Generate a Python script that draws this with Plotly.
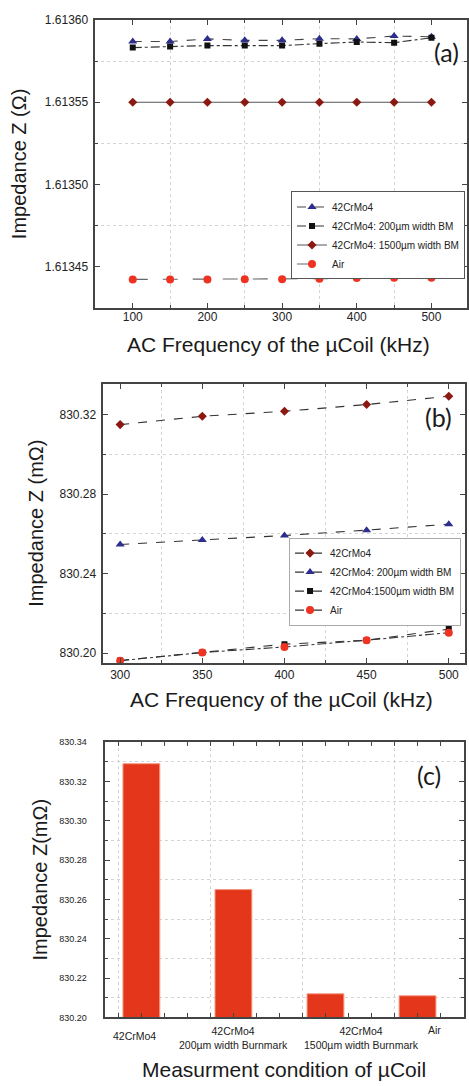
import plotly.graph_objects as go

W, H = 469, 1086

# ---- Panel (a): impedance vs. AC frequency, 100-500 kHz (ohm) ----
freq_a = [100, 150, 200, 250, 300, 350, 400, 450, 500]
za_42crmo4 = [1.6135870, 1.6135870, 1.6135886, 1.6135877, 1.6135877,
              1.6135887, 1.6135886, 1.6135903, 1.6135899]
za_200bm = [1.6135833, 1.6135839, 1.6135845, 1.6135845, 1.6135845,
            1.6135857, 1.6135867, 1.6135863, 1.6135893]
za_1500bm = [1.6135500, 1.6135500, 1.6135500, 1.6135500, 1.6135500,
             1.6135500, 1.6135500, 1.6135500, 1.6135500]
za_air = [1.6134422, 1.6134422, 1.6134422, 1.6134423, 1.6134423,
          1.6134426, 1.6134430, 1.6134432, 1.6134432]
names_a = ["42CrMo4", "42CrMo4: 200µm width BM",
           "42CrMo4: 1500µm width BM", "Air"]

# ---- Panel (b): impedance vs. AC frequency, 300-500 kHz (milliohm) ----
freq_b = [300, 350, 400, 450, 500]
zb_42crmo4 = [830.3150, 830.3192, 830.3217, 830.3251, 830.3293]
zb_200bm = [830.2547, 830.2569, 830.2592, 830.2619, 830.2649]
zb_1500bm = [830.1963, 830.2003, 830.2045, 830.2065, 830.2121]
zb_air = [830.1962, 830.2003, 830.2031, 830.2065, 830.2103]
names_b = ["42CrMo4", "42CrMo4: 200µm width BM",
           "42CrMo4:1500µm width BM", "Air"]

# ---- Panel (c): impedance per measurement condition (milliohm) ----
conditions = ["42CrMo4", "42CrMo4<br>200µm width Burnmark",
              "42CrMo4<br>1500µm width Burnmark", "Air"]
zc = [830.329, 830.265, 830.212, 830.211]
cond_pos = [0, 1, 2, 3]
cond_label_pos = [-0.08, 1.0, 2.39, 3.18]

# marker styles per material state
NAVY, DKRED, RED, BLACK = "#2d2d8e", "#8c1812", "#ee3322", "#111111"
BAR = "#e4361a"
FONT = "Liberation Sans"
AXC = "#444444"
TXT = "#222222"

fig = go.Figure()


def series(x, y, name, sym, col, size, dash, lcol, xa, ya, leg):
    fig.add_trace(go.Scatter(
        x=x, y=y, name=name, mode="lines+markers", xaxis=xa, yaxis=ya,
        legend=leg,
        marker=dict(symbol=sym, color=col, size=size, line=dict(width=0)),
        line=dict(color=lcol, width=1.1, dash=dash),
    ))


series(freq_a, za_42crmo4, names_a[0], "triangle-up", NAVY, 8, "dash", "#444", "x", "y", "legend")
series(freq_a, za_200bm, names_a[1], "square", BLACK, 6, "dashdot", "#333", "x", "y", "legend")
series(freq_a, za_1500bm, names_a[2], "diamond", DKRED, 7, "solid", "#555", "x", "y", "legend")
series(freq_a, za_air, names_a[3], "circle", RED, 8, "longdash", "#666", "x", "y", "legend")

series(freq_b, zb_42crmo4, names_b[0], "diamond", DKRED, 7, "dash", "#333", "x2", "y2", "legend2")
series(freq_b, zb_200bm, names_b[1], "triangle-up", NAVY, 8, "dash", "#333", "x2", "y2", "legend2")
series(freq_b, zb_1500bm, names_b[2], "square", BLACK, 6, "dash", "#333", "x2", "y2", "legend2")
series(freq_b, zb_air, names_b[3], "circle", RED, 8, "dashdot", "#333", "x2", "y2", "legend2")

fig.add_trace(go.Bar(
    x=cond_pos, y=zc, width=0.4, xaxis="x3", yaxis="y3", showlegend=False,
    marker=dict(color=BAR, line=dict(color="#f59a80", width=1)),
))


def frame(**kw):
    d = dict(
        showline=True, linecolor=AXC, linewidth=2, mirror="allticks",
        ticks="inside", ticklen=5, tickwidth=1.2, tickcolor=AXC,
        showgrid=False, zeroline=False,
        tickfont=dict(family=FONT, size=12, color=TXT),
    )
    d.update(kw)
    return d


def minor(dtick, tick0, grid=True):
    return dict(dtick=dtick, tick0=tick0, ticks="inside", ticklen=3,
                tickcolor=AXC, showgrid=grid, gridcolor="#d4d4d4",
                griddash="dot", gridwidth=1)


def ydom(top, bottom):
    return [1 - bottom / H, 1 - top / H]


fig.update_layout(
    width=W, height=H, margin=dict(l=0, r=0, t=0, b=0),
    paper_bgcolor="white", plot_bgcolor="white",
    xaxis=frame(domain=[95 / W, 1.0], range=[48.9, 547.6], anchor="y",
                dtick=100, tick0=100, minor=minor(50, 100),
                ticklabelstandoff=-3),
    yaxis=frame(domain=ydom(13.3, 304), range=[1.613425, 1.61360], anchor="x",
                dtick=0.00005, tick0=1.61345, tickformat=".5f",
                minor=minor(0.000025, 1.61345), ticklabelstandoff=2),
    xaxis2=frame(domain=[103 / W, 466.7 / W], range=[289.3, 509.7], anchor="y2",
                 dtick=50, tick0=300, minor=minor(25, 300),
                 ticklabelstandoff=0),
    yaxis2=frame(domain=ydom(381.7, 663), range=[830.1952, 830.3352], anchor="x2",
                 dtick=0.04, tick0=830.20, tickformat=".2f",
                 minor=minor(0.02, 830.20), ticklabelstandoff=2),
    xaxis3=frame(domain=[105 / W, 466 / W], range=[-0.4, 3.505], anchor="y3",
                 tickmode="array", tickvals=[-0.25, 0.75, 1.75, 2.75],
                 showticklabels=False, showgrid=True, gridcolor="#d4d4d4",
                 griddash="dot", ticklen=4,
                 minor=dict(tickmode="array",
                            tickvals=[0, 0.25, 0.5, 1, 1.25, 1.5, 2, 2.25, 2.5,
                                      3, 3.25],
                            ticks="inside", ticklen=4, tickcolor=AXC,
                            showgrid=False)),
    yaxis3=frame(domain=ydom(743.3, 1021.7), range=[830.20, 830.34], anchor="x3",
                 dtick=0.02, tick0=830.20, tickformat=".2f",
                 tickfont=dict(family=FONT, size=9, color=TXT),
                 minor=minor(0.01, 830.20),
                 ticklabelstandoff=14),
    legend=dict(x=467 / W, xanchor="right", y=1 - 231 / H, yanchor="middle",
                bgcolor="white", bordercolor="#555", borderwidth=1,
                font=dict(family=FONT, size=10, color=TXT),
                tracegroupgap=0),
    legend2=dict(x=463 / W, xanchor="right", y=1 - 581 / H, yanchor="middle",
                 bgcolor="white", bordercolor="#aaa", borderwidth=1,
                 font=dict(family=FONT, size=10, color=TXT),
                 tracegroupgap=0),
    showlegend=True,
)

# axis titles and panel tags
texts = [
    ("Impedance Z (Ω)", 19, 158, -90, 20, FONT),
    ("AC Frequency of the µCoil (kHz)", 280, 341, 0, 21, FONT),
    ("Impedance Z (mΩ)", 36.7, 522, -90, 20, FONT),
    ("AC Frequency of the µCoil (kHz)", 282.5, 700, 0, 21, FONT),
    ("Impedance Z(mΩ)", 40, 882.5, -90, 20, FONT),
    ("Measurment condition of µCoil", 285, 1074, 0, 21, FONT),
    ("(a)", 448, 45, 0, 25, "Lato"),
    ("(b)", 440.7, 415, 0, 25, "Lato"),
    ("(c)", 431, 777, 0, 25, "Lato"),
]
for txt, px, py, ang, size, fam in texts:
    fig.add_annotation(text=txt, x=px / W, y=1 - py / H, xref="paper",
                       yref="paper", showarrow=False, textangle=ang,
                       xanchor="center", yanchor="middle",
                       font=dict(family=fam, size=size, color="#1a1a1a"))

# category labels beneath the bars
label_y = [1040.7, 1043, 1043, 1034]
for lbl, lx, ly in zip(conditions, cond_label_pos, label_y):
    fig.add_annotation(text=lbl, x=lx, y=1 - ly / H, xref="x3", yref="paper",
                       showarrow=False, xanchor="center", yanchor="middle",
                       font=dict(family=FONT, size=10.5, color=TXT))

fig.write_html("out.html")
